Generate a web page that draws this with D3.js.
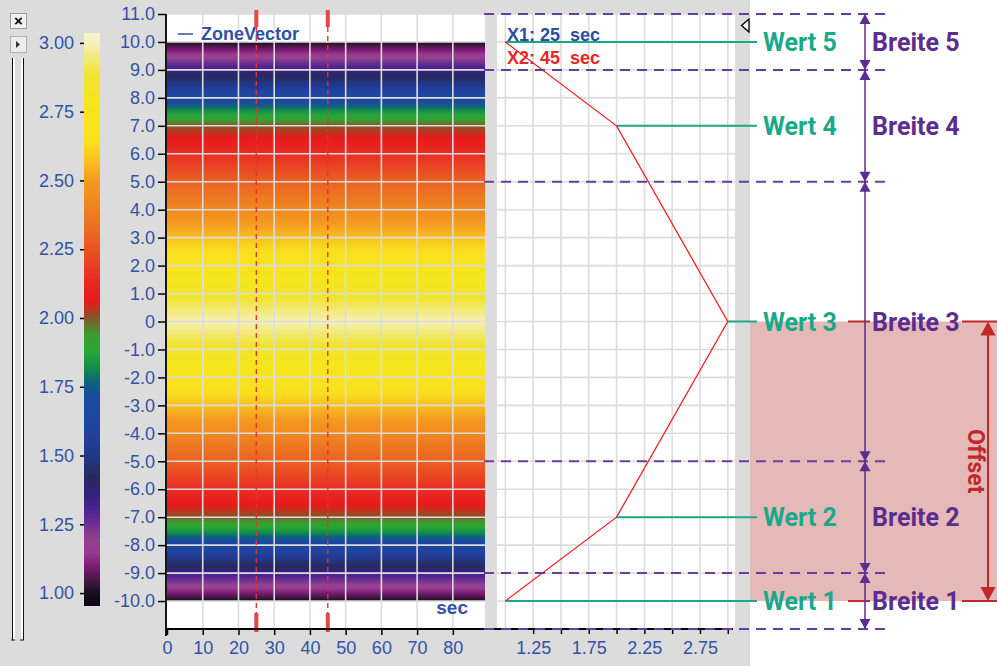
<!DOCTYPE html>
<html><head><meta charset="utf-8">
<script src="https://cdn.jsdelivr.net/npm/d3@7/dist/d3.min.js"></script>
<style>html,body{margin:0;padding:0;background:#fff;} svg{display:block}</style>
</head><body><svg id="c" width="997" height="666"></svg>
<script>
// ---------------- data ----------------
const zonePos = [10, 7, 0, -7, -10];
const zoneValue = [1.0, 2.0, 3.0, 2.0, 1.0];
const zoneBounds = [11, 9, 5, -5, -9, -11];
const wertLabels = ["Wert 5", "Wert 4", "Wert 3", "Wert 2", "Wert 1"];
const breiteLabels = ["Breite 5", "Breite 4", "Breite 3", "Breite 2", "Breite 1"];
const offsetRange = [0, -10];
const offsetLabel = "Offset";
const cursorTimes = [25, 45];
const cursorLabels = ["X1: 25  sec", "X2: 45  sec"];
const legendLabel = "ZoneVector";
const timeUnit = "sec";
const timeDomain = [0, 89];
const timeTicks = [0, 10, 20, 30, 40, 50, 60, 70, 80];
const posDomain = [-11, 11];
const posTicks = [11, 10, 9, 8, 7, 6, 5, 4, 3, 2, 1, 0, -1, -2, -3, -4, -5, -6, -7, -8, -9, -10];
const posGrid = [11, 10, 9, 8, 7, 6, 5, 4, 3, 2, 1, 0, -1, -2, -3, -4, -5, -6, -7, -8, -9, -10, -11];
const valueDomain = [0.925, 3.065];
const valueGrid = [1.0, 1.25, 1.5, 1.75, 2.0, 2.25, 2.5, 2.75, 3.0];
const valueTicks = [1.25, 1.5, 1.75, 2.0, 2.25, 2.5, 2.75, 3.0];
const valueTickLabels = [1.25, 1.75, 2.25, 2.75];
const colorbarDomain = [0.953, 3.036];
const colorbarTicks = [1.00, 1.25, 1.50, 1.75, 2.00, 2.25, 2.50, 2.75, 3.00];
const cmapValues = [0.95, 1.00, 1.05, 1.10, 1.15, 1.19, 1.25, 1.31, 1.36, 1.42, 1.50, 1.60, 1.72, 1.77, 1.82, 1.88, 1.94, 2.00, 2.035, 2.065, 2.14, 2.29, 2.43, 2.50, 2.57, 2.64, 2.78, 2.88, 2.95, 3.00, 3.04];
const cmapColors = ["#0a0510", "#1a0c1c", "#4a1848", "#801c78", "#983a90", "#94428e", "#6e2e92", "#4a2290", "#33227a", "#262a5c", "#22378a", "#1f44a0", "#1c4aa0", "#0e6478", "#129048", "#28a636", "#3e9a30", "#84562a", "#c0321f", "#e81a1a", "#e82c24", "#ea6222", "#f08a20", "#f49a20", "#f8c020", "#f9e01e", "#f6e61c", "#f0e430", "#f2ea80", "#f6f0b8", "#f8f4cc"];

// ---------------- setup ----------------
const svg = d3.select("#c");
const AX = "#3152a6";
const PURPLE = "#5b2d8e", TEAL = "#1aa88a", RED = "#c0282a", CUR = "#e83030";
const axisFont = "'Liberation Sans', Arial, sans-serif";
const annoFont = "Roboto, 'Open Sans', sans-serif";

const xT = d3.scaleLinear(timeDomain, [167, 485]);
const yP = d3.scaleLinear(posDomain, [629, 14]);
const xV = d3.scaleLinear(valueDomain, [497, 735]);
const cb = d3.scaleLinear(colorbarDomain, [606, 33]);
const cmap = d3.scaleLinear(cmapValues, cmapColors).clamp(true);
const profile = d3.scaleLinear(zonePos, zoneValue);

const defs = svg.append("defs");

// backgrounds
svg.append("rect").attr("x", 0).attr("y", 0).attr("width", 750).attr("height", 666).attr("fill", "#dcdcdc");
svg.append("rect").attr("x", 750).attr("y", 0).attr("width", 247).attr("height", 666).attr("fill", "#ffffff");
// offset shaded region
svg.append("rect").attr("x", 750).attr("y", yP(offsetRange[0]))
  .attr("width", 247).attr("height", yP(offsetRange[1]) - yP(offsetRange[0])).attr("fill", "#e6b9b9");

// left tool buttons
svg.append("rect").attr("x", 10.5).attr("y", 13.5).attr("width", 16).attr("height", 15).attr("fill", "#f2f2f2").attr("stroke", "#9a9a9a");
svg.append("text").attr("x", 18.5).attr("y", 26).attr("text-anchor", "middle").attr("font-family", axisFont)
  .attr("font-weight", "bold").attr("font-size", 15).attr("fill", "#000").text("×");
svg.append("rect").attr("x", 10.5).attr("y", 36.5).attr("width", 16).attr("height", 16).attr("fill", "#ececec").attr("stroke", "#b0b0b0");
svg.append("path").attr("d", "M16,41 L20,44.5 L16,48 Z").attr("fill", "#333");
[[12, 12.5], [21, 23.5]].forEach(([x, lx]) => {
  svg.append("rect").attr("x", x).attr("y", 58).attr("width", 3).attr("height", 582).attr("fill", "#fff");
  svg.append("line").attr("x1", lx).attr("x2", lx).attr("y1", 58).attr("y2", 640).attr("stroke", "#111").attr("stroke-width", 1);
});
svg.append("line").attr("x1", 11).attr("x2", 15).attr("y1", 640).attr("y2", 640).attr("stroke", "#111");
svg.append("line").attr("x1", 20).attr("x2", 24).attr("y1", 640).attr("y2", 640).attr("stroke", "#111");

// ---------------- colorbar ----------------
const cbGrad = defs.append("linearGradient").attr("id", "cbg").attr("x1", 0).attr("y1", 0).attr("x2", 0).attr("y2", 1);
d3.range(0, 201).forEach(i => {
  const t = i / 200;
  const v = colorbarDomain[1] - t * (colorbarDomain[1] - colorbarDomain[0]);
  cbGrad.append("stop").attr("offset", t).attr("stop-color", cmap(v));
});
svg.append("rect").attr("x", 84).attr("y", cb(colorbarDomain[1])).attr("width", 16)
  .attr("height", cb(colorbarDomain[0]) - cb(colorbarDomain[1])).attr("fill", "url(#cbg)");
const cbAxis = svg.append("g").attr("transform", "translate(84,0)")
  .call(d3.axisLeft(cb).tickValues(colorbarTicks).tickFormat(d3.format(".2f")).tickSize(4).tickPadding(6));
cbAxis.select(".domain").remove();

// ---------------- heatmap panel ----------------
svg.append("rect").attr("x", xT(timeDomain[0])).attr("y", yP(posDomain[1]))
  .attr("width", xT(timeDomain[1]) - xT(timeDomain[0])).attr("height", yP(posDomain[0]) - yP(posDomain[1])).attr("fill", "#fff");
const hmGrad = defs.append("linearGradient").attr("id", "hmg").attr("x1", 0).attr("y1", 0).attr("x2", 0).attr("y2", 1);
const pTop = d3.max(zonePos), pBot = d3.min(zonePos);
d3.range(0, 401).forEach(i => {
  const t = i / 400;
  const p = pTop - t * (pTop - pBot);
  hmGrad.append("stop").attr("offset", t).attr("stop-color", cmap(profile(p)));
});
svg.append("rect").attr("x", xT(timeDomain[0])).attr("y", yP(pTop))
  .attr("width", xT(timeDomain[1]) - xT(timeDomain[0])).attr("height", yP(pBot) - yP(pTop)).attr("fill", "url(#hmg)");
// grid
svg.append("g").selectAll("line").data(posGrid).join("line")
  .attr("x1", xT(timeDomain[0])).attr("x2", xT(timeDomain[1])).attr("y1", d => yP(d)).attr("y2", d => yP(d))
  .attr("stroke", "#dcdcdc").attr("stroke-width", 1.6);
svg.append("g").selectAll("line").data(timeTicks.slice(1)).join("line")
  .attr("x1", d => xT(d)).attr("x2", d => xT(d)).attr("y1", yP(posDomain[1])).attr("y2", yP(posDomain[0]))
  .attr("stroke", "#dcdcdc").attr("stroke-width", 1.6);

// legend
svg.append("line").attr("x1", 178).attr("x2", 193).attr("y1", 34).attr("y2", 34).attr("stroke", AX).attr("stroke-width", 1.5);
svg.append("text").attr("x", 201).attr("y", 40).attr("font-family", axisFont).attr("font-weight", "bold")
  .attr("font-size", 18).attr("fill", AX).attr("stroke", "#fff").attr("stroke-width", 3).attr("paint-order", "stroke").text(legendLabel);
// unit label
svg.append("text").attr("x", 468).attr("y", 614).attr("text-anchor", "end").attr("font-family", axisFont).attr("font-weight", "bold")
  .attr("font-size", 19).attr("fill", AX).text(timeUnit);

// cursors
cursorTimes.forEach(t => {
  svg.append("line").attr("x1", xT(t)).attr("x2", xT(t)).attr("y1", 27).attr("y2", 613)
    .attr("stroke", CUR).attr("stroke-width", 1.4).attr("stroke-dasharray", "5,4");
  svg.append("rect").attr("x", xT(t) - 2).attr("y", 10).attr("width", 4).attr("height", 17).attr("fill", "#e84444");
  svg.append("rect").attr("x", xT(t) - 2).attr("y", 613).attr("width", 4).attr("height", 19).attr("fill", "#e84444");
});

// axes heatmap
const fmtPos = d => d === 0 ? "0" : d3.format(".1f")(d).replace("−", "-");
const yAx = svg.append("g").attr("transform", `translate(${xT(0) - 1},0)`)
  .call(d3.axisLeft(yP).tickValues(posTicks).tickFormat(fmtPos).tickSize(8).tickPadding(3));
yAx.select(".domain").attr("d", `M0,${yP(posDomain[1])}V${yP(posDomain[0]) + 7}`);
const xAx = svg.append("g").attr("transform", `translate(0,${yP(posDomain[0])})`)
  .call(d3.axisBottom(xT).tickValues(timeTicks).tickSize(6).tickPadding(6));
xAx.select(".domain").attr("d", `M${xT(0) - 1},0H497`);

// ---------------- line profile panel ----------------
svg.append("rect").attr("x", xV(valueDomain[0])).attr("y", yP(posDomain[1]))
  .attr("width", xV(valueDomain[1]) - xV(valueDomain[0])).attr("height", yP(posDomain[0]) - yP(posDomain[1])).attr("fill", "#fff");
svg.append("g").selectAll("line").data(posGrid).join("line")
  .attr("x1", xV(valueDomain[0])).attr("x2", xV(valueDomain[1])).attr("y1", d => yP(d)).attr("y2", d => yP(d))
  .attr("stroke", "#dcdcdc").attr("stroke-width", 1.6);
svg.append("g").selectAll("line").data(valueGrid).join("line")
  .attr("x1", d => xV(d)).attr("x2", d => xV(d)).attr("y1", yP(posDomain[1])).attr("y2", yP(posDomain[0]))
  .attr("stroke", "#dcdcdc").attr("stroke-width", 1.6);
const vAx = svg.append("g").attr("transform", `translate(0,${yP(posDomain[0])})`)
  .call(d3.axisBottom(xV).tickValues(valueTicks).tickSize(5).tickPadding(7)
    .tickFormat(d => valueTickLabels.includes(d) ? d3.format(".2f")(d) : ""));
vAx.select(".domain").attr("d", `M497,0H733`);

// cursor labels
cursorLabels.forEach((s, i) => {
  svg.append("text").attr("x", 507).attr("y", 41 + i * 23).attr("font-family", axisFont).attr("font-weight", "bold")
    .attr("font-size", 18).attr("fill", i === 0 ? "#2c4f9e" : "#e8262a").style("white-space", "pre").text(s);
});

// style all axes
svg.selectAll(".tick text").attr("font-family", axisFont).attr("font-size", 18).attr("fill", AX);
svg.selectAll(".tick line").attr("stroke", "#000").attr("stroke-width", 1.5);
svg.selectAll(".domain").attr("stroke", "#000").attr("stroke-width", 1.8);

// teal Wert lines
svg.append("g").selectAll("line").data(zonePos).join("line")
  .attr("x1", (d, i) => xV(zoneValue[i])).attr("x2", 757).attr("y1", d => yP(d)).attr("y2", d => yP(d))
  .attr("stroke", TEAL).attr("stroke-width", 2);

// profile line
const line = d3.line().x((d, i) => xV(zoneValue[i])).y(d => yP(d));
svg.append("path").attr("d", line(zonePos)).attr("fill", "none").attr("stroke", "#ee2222").attr("stroke-width", 1.3);

// marker triangle
svg.append("path").attr("d", "M749,19 L749,32 L741.5,25.5 Z").attr("fill", "#fff").attr("stroke", "#000").attr("stroke-width", 1.3);

// purple dashed zone bounds
svg.append("g").selectAll("line").data(zoneBounds).join("line")
  .attr("x1", 484).attr("x2", 892).attr("y1", d => yP(d)).attr("y2", d => yP(d))
  .attr("stroke", "#6b3d9a").attr("stroke-width", 2).attr("stroke-dasharray", "10,7");

// red offset reference lines
offsetRange.forEach(p => {
  [[848, 870], [962, 997]].forEach(([a, b]) => {
    svg.append("line").attr("x1", a).attr("x2", b).attr("y1", yP(p)).attr("y2", yP(p)).attr("stroke", RED).attr("stroke-width", 2);
  });
});

// Breite vertical dimension line
const BX = 865;
svg.append("line").attr("x1", BX).attr("x2", BX).attr("y1", yP(zoneBounds[0])).attr("y2", yP(zoneBounds[zoneBounds.length - 1]))
  .attr("stroke", PURPLE).attr("stroke-width", 1.5);
const tri = (cx, tip, dir, w, h) => `M${cx},${tip} L${cx - w / 2},${tip + dir * h} L${cx + w / 2},${tip + dir * h} Z`;
zoneBounds.forEach((b, i) => {
  if (i > 0) svg.append("path").attr("d", tri(BX, yP(b), -1, 11, 10)).attr("fill", PURPLE);
  if (i < zoneBounds.length - 1) svg.append("path").attr("d", tri(BX, yP(b), 1, 11, 10)).attr("fill", PURPLE);
});

// labels
svg.append("g").selectAll("text").data(wertLabels).join("text")
  .attr("x", 763).attr("y", (d, i) => yP(zonePos[i])).attr("dy", "0.36em")
  .attr("font-family", annoFont).attr("font-weight", "bold").attr("font-size", 25).attr("fill", TEAL).text(d => d);
svg.append("g").selectAll("text").data(breiteLabels).join("text")
  .attr("x", 872).attr("y", (d, i) => yP(zonePos[i])).attr("dy", "0.36em")
  .attr("font-family", annoFont).attr("font-weight", "bold").attr("font-size", 25).attr("fill", PURPLE).text(d => d);

// Offset arrow
const OX = 988;
svg.append("line").attr("x1", OX).attr("x2", OX).attr("y1", yP(offsetRange[0]) + 10).attr("y2", yP(offsetRange[1]) - 10)
  .attr("stroke", RED).attr("stroke-width", 2);
svg.append("path").attr("d", tri(OX, yP(offsetRange[0]), 1, 15, 14)).attr("fill", RED);
svg.append("path").attr("d", tri(OX, yP(offsetRange[1]), -1, 15, 14)).attr("fill", RED);
svg.append("text").attr("transform", `translate(976,${(yP(offsetRange[0]) + yP(offsetRange[1])) / 2}) rotate(90)`)
  .attr("text-anchor", "middle").attr("dy", "0.36em").attr("font-family", annoFont).attr("font-weight", "bold")
  .attr("font-size", 23).attr("fill", RED).text(offsetLabel);
</script></body></html>
